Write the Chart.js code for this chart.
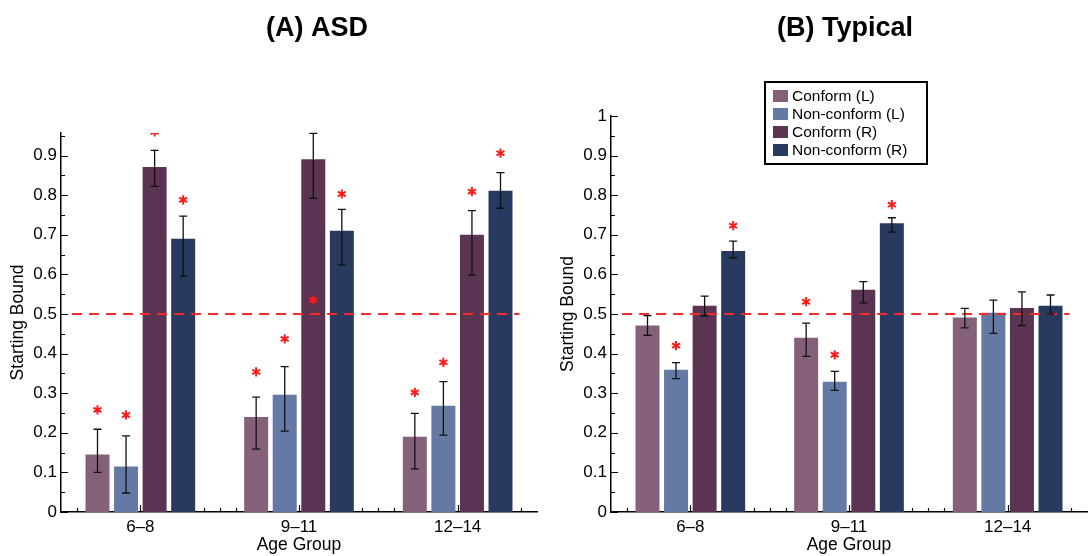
<!DOCTYPE html>
<html>
<head>
<meta charset="utf-8">
<script src="https://cdn.jsdelivr.net/npm/chart.js@4.4.1/dist/chart.umd.min.js"></script>
<style>
  html, body { margin: 0; padding: 0; background: #fff; }
  #wrap { position: relative; width: 1089px; height: 556px; }
  canvas { position: absolute; top: 0; }
  #asd { left: 0; }
  #typical { left: 545px; }
</style>
</head>
<body>
<div id="wrap">
  <canvas id="asd" width="545" height="556"></canvas>
  <canvas id="typical" width="544" height="556"></canvas>
</div>
<script>
const ageGroups = ['6–8', '9–11', '12–14'];
const seriesNames = ['Conform (L)', 'Non-conform (L)', 'Conform (R)', 'Non-conform (R)'];
const seriesColors = ['#856179', '#6479a3', '#5b3353', '#283a5f'];

// ASD group: mean starting bound per series (rows) and age group (cols)
const asdMeans = [
  [0.145, 0.240, 0.190],
  [0.115, 0.296, 0.268],
  [0.871, 0.891, 0.700],
  [0.690, 0.710, 0.811]
];
const asdLower = [
  [0.100, 0.159, 0.109],
  [0.048, 0.204, 0.194],
  [0.822, 0.792, 0.598],
  [0.595, 0.624, 0.767]
];
const asdUpper = [
  [0.209, 0.290, 0.249],
  [0.192, 0.367, 0.329],
  [0.913, 0.956, 0.761],
  [0.747, 0.764, 0.857]
];
// height of the significance asterisk, null where none
const asdStars = [
  [0.258, 0.354, 0.302],
  [0.245, 0.437, 0.378],
  [0.960, 0.535, 0.809],
  [0.788, 0.803, 0.906]
];

// Typical group
const typMeans = [
  [0.471, 0.440, 0.491],
  [0.359, 0.329, 0.503],
  [0.521, 0.561, 0.515],
  [0.659, 0.729, 0.521]
];
const typLower = [
  [0.446, 0.393, 0.465],
  [0.337, 0.307, 0.451],
  [0.495, 0.528, 0.471],
  [0.642, 0.707, 0.500]
];
const typUpper = [
  [0.496, 0.477, 0.514],
  [0.377, 0.355, 0.535],
  [0.545, 0.582, 0.556],
  [0.684, 0.743, 0.548]
];
const typStars = [
  [null, 0.531, null],
  [0.420, 0.397, null],
  [null, null, null],
  [0.723, 0.776, null]
];

const chanceLevel = 0.5;
const yTickStep = 0.1;
const yMinorStep = 0.05;
// x tick marks, in category units (0 = first age group)
const xTickMarks = [-0.4, 0, 0.4, 0.5, 0.6, 1, 1.4, 1.5, 1.6, 2, 2.4];

const FONT = '"Liberation Sans", Arial, Helvetica, sans-serif';

function drawAsterisk(ctx, x, y, r) {
  ctx.beginPath();
  for (let k = 0; k < 3; k++) {
    const a = Math.PI / 2 + k * Math.PI / 3;
    ctx.moveTo(x - r * Math.cos(a), y - r * Math.sin(a));
    ctx.lineTo(x + r * Math.cos(a), y + r * Math.sin(a));
  }
  ctx.stroke();
}

const panelMarks = {
  id: 'panelMarks',
  afterDatasetsDraw(chart, args, opts) {
    const { ctx, chartArea: area } = chart;
    const xs = chart.scales.x, ys = chart.scales.y;

    // chance line
    ctx.save();
    ctx.strokeStyle = '#f22a2a';
    ctx.lineWidth = 1.8;
    ctx.setLineDash([10, 7]);
    const y5 = ys.getPixelForValue(chanceLevel);
    ctx.beginPath();
    ctx.moveTo(xs.getPixelForValue(opts.lineFrom), y5);
    ctx.lineTo(xs.getPixelForValue(opts.lineTo), y5);
    ctx.stroke();
    ctx.restore();

    // error bars
    ctx.save();
    ctx.strokeStyle = '#111';
    ctx.lineWidth = 1.3;
    chart.data.datasets.forEach((ds, i) => {
      chart.getDatasetMeta(i).data.forEach((bar, j) => {
        const top = ys.getPixelForValue(opts.upper[i][j]);
        const bot = ys.getPixelForValue(opts.lower[i][j]);
        ctx.beginPath();
        ctx.moveTo(bar.x, top); ctx.lineTo(bar.x, bot);
        ctx.moveTo(bar.x - 4, top); ctx.lineTo(bar.x + 4, top);
        ctx.moveTo(bar.x - 4, bot); ctx.lineTo(bar.x + 4, bot);
        ctx.stroke();
      });
    });
    ctx.restore();

    // asterisks, clipped to the axes
    ctx.save();
    ctx.beginPath();
    ctx.rect(area.left, area.top, area.right - area.left, area.bottom - area.top);
    ctx.clip();
    ctx.strokeStyle = '#ff1a1a';
    ctx.lineWidth = 2;
    chart.data.datasets.forEach((ds, i) => {
      chart.getDatasetMeta(i).data.forEach((bar, j) => {
        const v = opts.stars[i][j];
        if (v === null) return;
        drawAsterisk(ctx, bar.x, ys.getPixelForValue(v), 4.6);
      });
    });
    ctx.restore();

    // inward tick marks
    ctx.save();
    ctx.strokeStyle = '#000';
    ctx.lineWidth = 1.2;
    ctx.beginPath();
    for (let k = 0; k * yMinorStep <= ys.max + 1e-9; k++) {
      const py = Math.round(ys.getPixelForValue(k * yMinorStep)) + 0.5;
      const len = k % 2 === 0 ? 7 : 4;
      ctx.moveTo(area.left, py);
      ctx.lineTo(area.left + len, py);
    }
    xTickMarks.forEach(t => {
      const px = Math.round(xs.getPixelForValue(t)) + 0.5;
      const len = Number.isInteger(t) ? 7 : 4;
      ctx.moveTo(px, area.bottom);
      ctx.lineTo(px, area.bottom - len);
    });
    ctx.stroke();
    ctx.restore();

    // legend box
    if (opts.legend) {
      const L = opts.legend;
      ctx.save();
      ctx.lineWidth = 2;
      ctx.strokeStyle = '#000';
      ctx.fillStyle = '#fff';
      ctx.fillRect(L.x, L.y, L.w, L.h);
      ctx.strokeRect(L.x, L.y, L.w, L.h);
      ctx.font = '15.5px ' + FONT;
      ctx.textBaseline = 'middle';
      chart.data.datasets.forEach((ds, i) => {
        const cy = L.y + 14 + i * 18;
        ctx.fillStyle = ds.backgroundColor;
        ctx.fillRect(L.x + 8, cy - 6, 15, 12);
        ctx.fillStyle = '#000';
        ctx.fillText(ds.label, L.x + 27, cy + 1);
      });
      ctx.restore();
    }
  },
  afterDraw(chart, args, opts) {
    const ctx = chart.ctx;
    ctx.save();
    ctx.fillStyle = '#000';
    ctx.font = 'bold 27px ' + FONT;
    ctx.textAlign = 'center';
    ctx.textBaseline = 'alphabetic';
    ctx.fillText(opts.title, opts.titleX, 36);
    ctx.restore();
  }
};

function makePanel(canvasId, cfg) {
  const datasets = seriesNames.map((name, i) => ({
    label: name,
    data: cfg.means[i],
    backgroundColor: seriesColors[i],
    borderWidth: 0,
    barPercentage: 0.84,
    categoryPercentage: 0.72
  }));
  return new Chart(document.getElementById(canvasId), {
    type: 'bar',
    data: { labels: ageGroups, datasets },
    plugins: [panelMarks],
    options: {
      responsive: false,
      animation: false,
      devicePixelRatio: 1,
      layout: { padding: { top: cfg.top, right: cfg.right, left: 0, bottom: 0 } },
      plugins: {
        legend: { display: false },
        tooltip: { enabled: false },
        panelMarks: {
          title: cfg.title,
          titleX: cfg.titleX,
          lower: cfg.lower,
          upper: cfg.upper,
          stars: cfg.stars,
          lineFrom: -0.43,
          lineTo: 2.39,
          legend: cfg.legend || null
        }
      },
      scales: {
        x: {
          offset: true,
          grid: { display: false, drawTicks: false },
          border: { display: true, color: '#000', width: 1.5 },
          ticks: { color: '#000', padding: 5, maxRotation: 0, autoSkip: false,
                   font: { family: FONT, size: 17 } },
          title: { display: true, text: 'Age Group', color: '#000',
                   font: { family: FONT, size: 17.5, lineHeight: 1.2 },
                   padding: { top: 0, bottom: 0 } },
          afterFit: s => { s.height = 44; }
        },
        y: {
          min: 0,
          max: cfg.yMax,
          grid: { display: false, drawTicks: false },
          border: { display: true, color: '#000', width: 1.5 },
          ticks: { stepSize: yTickStep, color: '#000', padding: 4,
                   font: { family: FONT, size: 17 },
                   callback: v => String(+v.toFixed(2)) },
          title: { display: true, text: 'Starting Bound', color: '#000',
                   font: { family: FONT, size: 17.5, lineHeight: 1.2 },
                   padding: { top: cfg.yTitlePad, bottom: 0 } },
          afterBuildTicks: s => {
            s.ticks = s.ticks.filter(t => Math.abs(t.value / yTickStep - Math.round(t.value / yTickStep)) < 1e-6);
          },
          afterFit: s => { s.width = cfg.axisLeft; }
        }
      }
    }
  });
}

makePanel('asd', {
  title: '(A) ASD', titleX: 317,
  means: asdMeans, lower: asdLower, upper: asdUpper, stars: asdStars,
  yMax: 0.957, top: 133, right: 8, axisLeft: 61, yTitlePad: 8
});

makePanel('typical', {
  title: '(B) Typical', titleX: 300,
  means: typMeans, lower: typLower, upper: typUpper, stars: typStars,
  yMax: 1, top: 116, right: 2, axisLeft: 66, yTitlePad: 12.5,
  legend: { x: 220, y: 82, w: 162, h: 82 }
});
</script>
</body>
</html>
